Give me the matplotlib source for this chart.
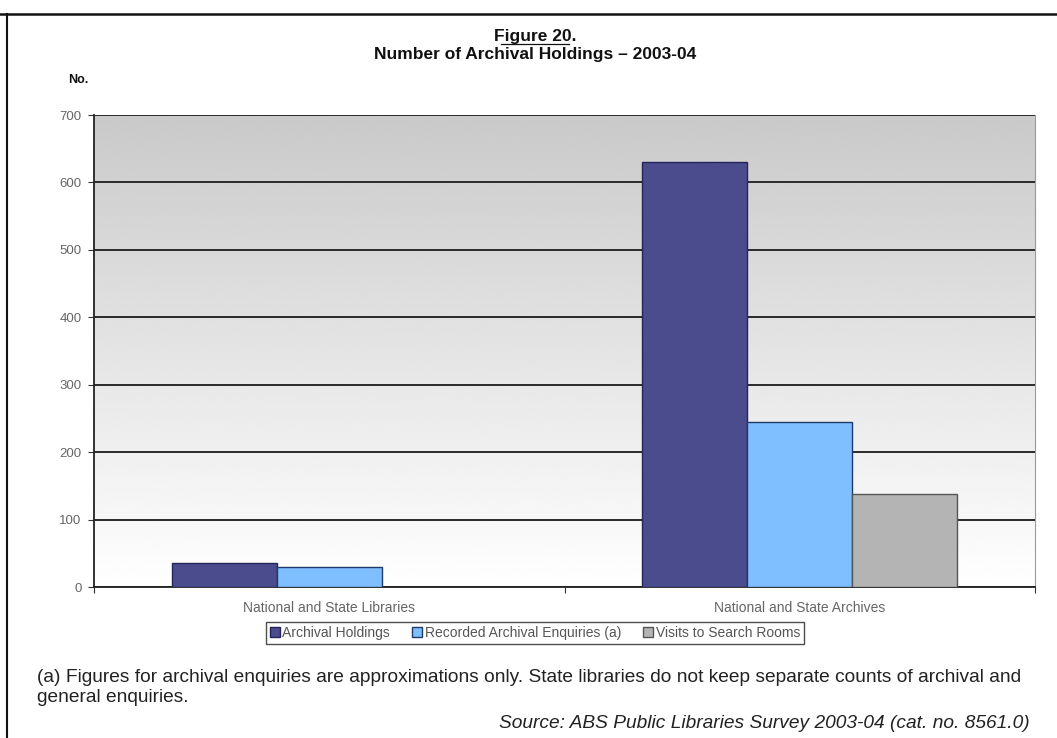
import numpy as np
import matplotlib
matplotlib.use("Agg")
import matplotlib.pyplot as plt
from matplotlib.lines import Line2D

categories = ["National and State Libraries", "National and State Archives"]
series_names = ["Archival Holdings", "Recorded Archival Enquiries (a)", "Visits to Search Rooms"]
holdings = [36, 630]
enquiries = [30, 244]
visits = [np.nan, 138]
yticks = [0, 100, 200, 300, 400, 500, 600, 700]

colors = ["#4b4c8e", "#80bfff", "#b4b4b4"]
edges = ["#23245a", "#1f3a66", "#555555"]

plt.rcParams['font.family'] = ['Liberation Sans', 'DejaVu Sans']

fig = plt.figure(figsize=(10.57, 7.38), dpi=100)
ax = fig.add_axes([94/1057, 1-587/738, (1035-94)/1057, (587-115)/738])

# gradient background (dark at top, white at bottom)
grad = np.linspace(1.0, 0.79, 256).reshape(-1, 1)
ax.imshow(grad, extent=[0, 1, 0, 1], transform=ax.transAxes, cmap='gray',
          vmin=0, vmax=1, aspect='auto', origin='lower', zorder=0, interpolation='bicubic')

x = np.arange(len(categories))
w = 0.223
for i, (vals, c, ec, name) in enumerate(zip([holdings, enquiries, visits], colors, edges, series_names)):
    ax.bar(x + (i - 1) * w, vals, width=w, color=c, edgecolor=ec, linewidth=1.0,
           label=name, zorder=3)

ax.set_xlim(-0.5, 1.5)
ax.set_ylim(0, 700)
ax.set_yticks(yticks)
ax.set_yticklabels([str(v) for v in yticks], fontsize=9.5, color="#666666")
ax.yaxis.grid(True, color="#2a2a2a", linewidth=1.4, zorder=1)
ax.set_axisbelow(True)
ax.tick_params(axis='y', direction='out', length=4, color="#333333", pad=5)

ax.set_xticks([-0.5, 0.5, 1.5])
ax.set_xticklabels(["", "", ""])
ax.set_xticks(x, minor=True)
ax.set_xticklabels(categories, minor=True, fontsize=10, color="#666666")
ax.tick_params(axis='x', which='major', direction='out', length=4, color="#333333")
ax.tick_params(axis='x', which='minor', length=0, pad=10)

ax.spines['top'].set_visible(False)
ax.spines['right'].set_color("#999999")
ax.spines['right'].set_linewidth(0.8)
ax.spines['left'].set_color("#222222")
ax.spines['left'].set_linewidth(1.3)
ax.spines['bottom'].set_color("#222222")
ax.spines['bottom'].set_linewidth(1.3)

# titles
fig.text(535/1057, 1-36/738, "Figure 20.", ha='center', va='center', fontsize=12.5,
         fontweight='bold', color="#111111")
fig.add_artist(Line2D([501/1057, 569/1057], [1-44/738, 1-44/738], color="#111111", linewidth=0.9))
fig.text(535/1057, 1-55/738, "Number of Archival Holdings \u2013 2003-04", ha='center', va='center',
         fontsize=12.5, fontweight='bold', color="#111111")
fig.text(78/1057, 1-80/738, "No.", ha='center', va='center', fontsize=9, fontweight='bold',
         color="#111111")

# legend
leg = fig.legend(loc='center', bbox_to_anchor=(535/1057, 1-633/738), ncol=3, fontsize=10,
                 frameon=True, fancybox=False, edgecolor="#222222", handlelength=0.7,
                 handleheight=0.7, handletextpad=0.2, columnspacing=1.6, borderpad=0.3)
leg.get_frame().set_linewidth(1.0)
for t in leg.get_texts():
    t.set_color("#555555")

# footnotes
fig.text(37/1057, 1-678/738,
         "(a) Figures for archival enquiries are approximations only. State libraries do not keep separate counts of archival and",
         ha='left', va='center', fontsize=13.8, color="#222222")
fig.text(37/1057, 1-698/738, "general enquiries.", ha='left', va='center', fontsize=13.8,
         color="#222222")
fig.text(1030/1057, 1-724/738, "Source: ABS Public Libraries Survey 2003-04 (cat. no. 8561.0)",
         ha='right', va='center', fontsize=13.8, style='italic', color="#222222")

# outer frame lines
fig.add_artist(Line2D([0, 1], [1-14/738, 1-14/738], color="#111111", linewidth=1.8))
fig.add_artist(Line2D([7/1057, 7/1057], [0, 1-14/738], color="#111111", linewidth=1.5))

fig.savefig("out.png", dpi=100)
